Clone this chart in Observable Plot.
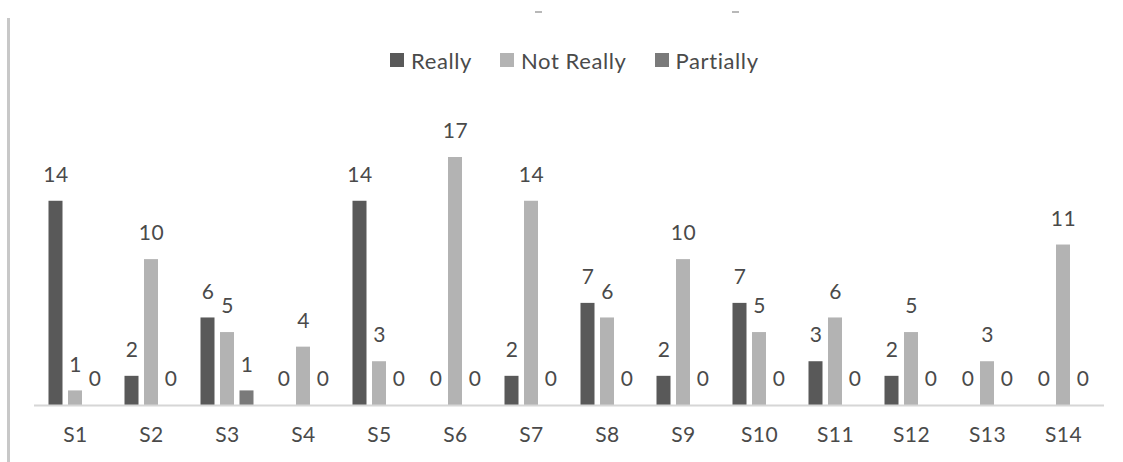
<!DOCTYPE html>
<html>
<head>
<meta charset="utf-8">
<script src="https://cdn.jsdelivr.net/npm/d3@7"></script>
<script src="https://cdn.jsdelivr.net/npm/@observablehq/plot@0.6"></script>
<style>
  html, body { margin: 0; padding: 0; background: #fff; }
  #wrap { position: relative; width: 1123px; height: 462px; overflow: hidden; font-family: Lato, "DejaVu Sans", sans-serif; }
  #vline { position: absolute; left: 7px; top: 18px; width: 3px; bottom: 0; background: #c8c8c8; }
  .dash { position: absolute; top: 11px; width: 7px; height: 2px; background: #b8b8b8; }
  #legend { position: absolute; top: 40px; left: 390px; height: 40px; display: flex; align-items: center; font-size: 22px; letter-spacing: 0.6px; color: #4a4a4a; white-space: nowrap; }
  #legend .item { display: flex; align-items: center; margin-right: 28px; }
  #legend .sw { width: 14px; height: 14px; margin-right: 7px; display: inline-block; }
  #chart { position: absolute; top: 80px; left: 0; }
</style>
</head>
<body>
<div id="wrap">
  <div id="vline"></div>
  <div class="dash" style="left:535px"></div>
  <div class="dash" style="left:732px"></div>
  <div id="legend"></div>
  <div id="chart"></div>
</div>
<script>
const groups = ["S1","S2","S3","S4","S5","S6","S7","S8","S9","S10","S11","S12","S13","S14"];
const seriesNames = ["Really", "Not Really", "Partially"];
const really    = [14, 2, 6, 0, 14, 0, 2, 7, 2, 7, 3, 2, 0, 0];
const notReally = [1, 10, 5, 4, 3, 17, 14, 6, 10, 5, 6, 5, 3, 11];
const partially = [0, 0, 1, 0, 0, 0, 0, 0, 0, 0, 0, 0, 0, 0];
const seriesColors = ["#595959", "#b3b3b3", "#7a7a7a"];

const seriesValues = [really, notReally, partially];
const offsets = [-19.5, 0, 19.5];

// legend
const legend = document.getElementById("legend");
seriesNames.forEach((name, i) => {
  const item = document.createElement("span");
  item.className = "item";
  const sw = document.createElement("span");
  sw.className = "sw";
  sw.style.background = seriesColors[i];
  item.appendChild(sw);
  item.appendChild(document.createTextNode(name));
  legend.appendChild(item);
});

const marks = [];
seriesValues.forEach((vals, i) => {
  const data = groups.map((g, j) => ({group: g, value: vals[j], series: seriesNames[i]}));
  marks.push(Plot.barY(data, {x: "group", y: "value", fill: seriesColors[i], dx: offsets[i]}));
  marks.push(Plot.text(data, {x: "group", y: "value", text: d => String(d.value), dx: offsets[i], dy: -26, fill: "#4a4a4a", fontSize: 21, letterSpacing: "0.5px"}));
});
marks.push(Plot.ruleY([0], {stroke: "#d6d6d6", strokeWidth: 2}));
marks.push(Plot.axisX({tickSize: 0, tickPadding: 22, fontSize: 21, color: "#4a4a4a", label: null}));

const chart = Plot.plot({
  width: 1123,
  height: 382,
  marginLeft: 34,
  marginRight: 19,
  marginTop: 20,
  marginBottom: 57,
  style: {fontFamily: "Lato, 'DejaVu Sans', sans-serif", color: "#4a4a4a", background: "transparent", letterSpacing: "0.5px"},
  x: {domain: groups, paddingInner: 0.817, paddingOuter: 0.4085, label: null},
  y: {domain: [0, 17], range: [325, 77], axis: null},
  marks
});
document.getElementById("chart").appendChild(chart);
</script>
</body>
</html>
